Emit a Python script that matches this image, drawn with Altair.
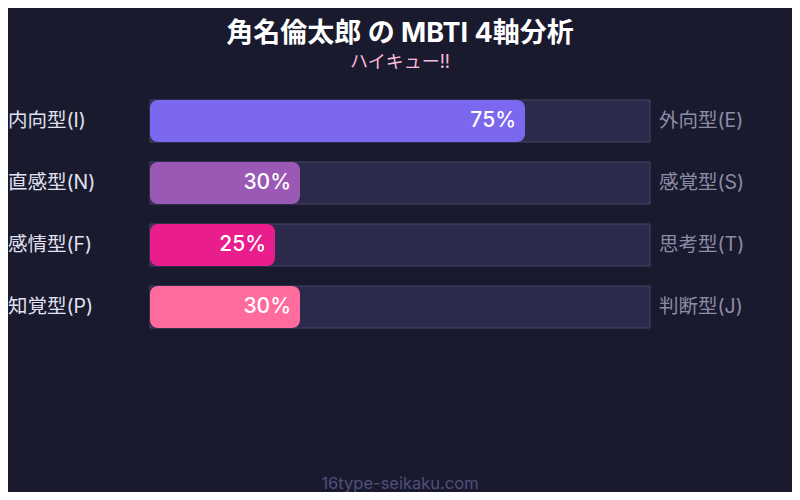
import altair as alt
import pandas as pd

left_labels = ["内向型(I)", "直感型(N)", "感情型(F)", "知覚型(P)"]
right_labels = ["外向型(E)", "感覚型(S)", "思考型(T)", "判断型(J)"]
values = [75, 30, 25, 30]
colors = ["#7b68ee", "#9b59b6", "#e91e8c", "#ff6b9d"]
title_text = "角名倫太郎 の MBTI 4軸分析"
subtitle_text = "ハイキュー!!"
footer_text = "16type-seikaku.com"

FONT = "Inter, Noto Sans CJK JP, sans-serif"

df = pd.DataFrame({
    "axis": left_labels,
    "right": right_labels,
    "value": values,
    "color": colors,
    "full": [100] * len(values),
    "zero": [0] * len(values),
    "label": [f"{v}%" for v in values],
})

x_scale = alt.Scale(domain=[0, 100], range=[142, 642])
p = 20 / 62
y_scale = alt.Scale(domain=left_labels, range=[82, 330], paddingInner=p, paddingOuter=p / 2)

base = alt.Chart(df)

track = base.mark_bar(color="#2c2a4a", stroke="#44446a", strokeWidth=1).encode(
    x=alt.X("zero:Q", scale=x_scale, axis=None),
    x2="full:Q",
    y=alt.Y("axis:N", scale=y_scale, axis=None, sort=left_labels),
)

bars = base.mark_bar(cornerRadius=8).encode(
    x=alt.X("zero:Q", scale=x_scale, axis=None),
    x2="value:Q",
    y=alt.Y("axis:N", scale=y_scale, axis=None, sort=left_labels),
    color=alt.Color("color:N", scale=None, legend=None),
)

pct = base.mark_text(align="right", baseline="middle", dx=-9, fontSize=21,
                     fontWeight=500, color="#ffffff", font=FONT).encode(
    x=alt.X("value:Q", scale=x_scale, axis=None),
    y=alt.Y("axis:N", scale=y_scale, axis=None, sort=left_labels, bandPosition=0.5),
    text="label:N",
)

left = base.mark_text(align="left", baseline="middle", fontSize=19.5,
                      color="#e0e0f0", font=FONT).encode(
    x=alt.value(0),
    y=alt.Y("axis:N", scale=y_scale, axis=None, sort=left_labels, bandPosition=0.5),
    text="axis:N",
)

right = base.mark_text(align="left", baseline="middle", fontSize=19.5,
                       color="#8c8ca6", font=FONT).encode(
    x=alt.value(651),
    y=alt.Y("axis:N", scale=y_scale, axis=None, sort=left_labels, bandPosition=0.5),
    text="right:N",
)

titles = pd.DataFrame({"t": [title_text]})
title = alt.Chart(titles).mark_text(align="center", baseline="middle", fontSize=27,
                                     fontWeight="bold", color="#ffffff", font=FONT).encode(
    x=alt.value(392), y=alt.value(26), text="t:N")

subs = pd.DataFrame({"t": [subtitle_text]})
subtitle = alt.Chart(subs).mark_text(align="center", baseline="middle", fontSize=18,
                                      color="#f8bbd9", font=FONT).encode(
    x=alt.value(392), y=alt.value(55), text="t:N")

foots = pd.DataFrame({"t": [footer_text]})
footer = alt.Chart(foots).mark_text(align="center", baseline="middle", fontSize=16.5,
                                     color="#50507a", font=FONT).encode(
    x=alt.value(392), y=alt.value(476), text="t:N")

chart = alt.layer(track, bars, pct, left, right, title, subtitle, footer).properties(
    width=784, height=484,
    autosize=alt.AutoSizeParams(type="none"),
    padding=0,
    background="#1a1a2e",
).configure_view(stroke=None)

chart.save("out.html", embed_options={"renderer": "svg", "actions": False})
